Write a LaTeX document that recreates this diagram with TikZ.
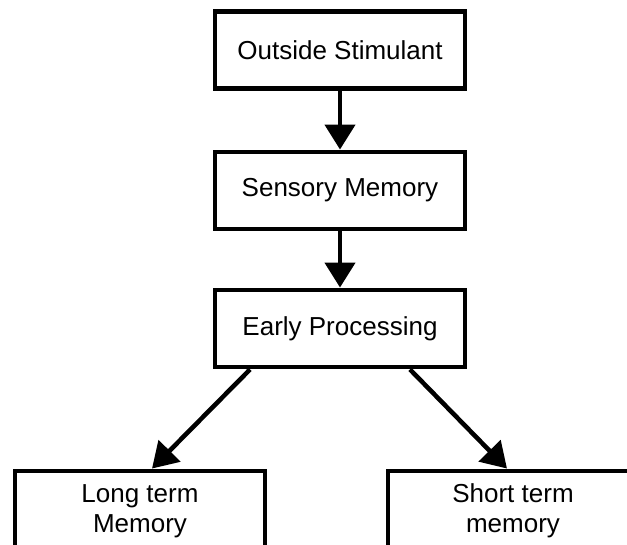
\documentclass[tikz,border=0pt]{standalone}
\usepackage{fontspec}
\setmainfont{Liberation Sans}
\usetikzlibrary{arrows.meta,calc}

\begin{document}
\begin{tikzpicture}[
  x=0.02cm, y=-0.02cm,
  font=\fontsize{14.8}{17}\selectfont,
  stage/.style={draw=black, line width=2.8pt, fill=white, minimum width=5cm,
    minimum height=1.54cm, inner sep=0pt, align=center},
  feed/.style={-{Triangle[length=5mm,width=6mm]}, line width=2.6pt, draw=black}
]

% Figure frame; the lower boxes run past the edge.
\useasboundingbox (0,0) rectangle (627,545);
\clip (0,0) rectangle (627,545);

\def\xmid{340}
\def\xlt{140}
\def\xst{513}

% Processing chain.
\node[stage] (stim) at (\xmid,50) {Outside Stimulant};
\node[stage] (sens) at (\xmid,190.5) {Sensory Memory};
\node[stage] (early) at (\xmid,328.5) {Early Processing};

% Memory stores.
\node[stage, minimum height=1.6cm] (ltm) at (\xlt,511) {Long term\\Memory};
\node[stage, minimum height=1.6cm] (stm) at (\xst,511) {Short term\\memory};

% Flow between stages.
\draw[feed] (stim) -- (sens);
\draw[feed] (sens) -- (early);
\draw[feed] ($(early.south)+(-90,0)$) -- ($(ltm.north)+(12,0)$);
\draw[feed] ($(early.south)+(70,0)$) -- ($(stm.north)+(-6,0)$);

\end{tikzpicture}
\end{document}
